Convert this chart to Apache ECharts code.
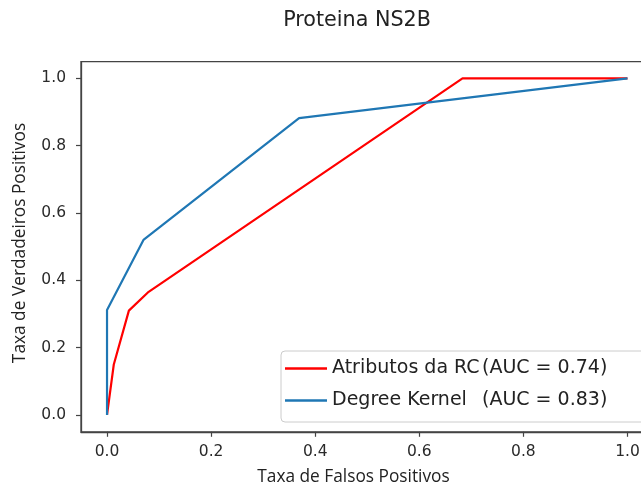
<!DOCTYPE html>
<html>
<head>
<meta charset="utf-8">
<script src="https://cdn.jsdelivr.net/npm/echarts@6/dist/echarts.min.js"></script>
<style>
html,body{margin:0;padding:0;background:#fff;}
#c{width:641px;height:487px;}
</style>
</head>
<body>
<div id="c"></div>
<script>
// Data
const titleText = 'Proteina NS2B';
const xLabel = 'Taxa de Falsos Positivos';
const yLabel = 'Taxa de Verdadeiros Positivos';
const tickValues = [0, 0.2, 0.4, 0.6, 0.8, 1.0];
const seriesNames = ['Atributos da RC', 'Degree Kernel'];
const aucValues = ['0.74', '0.83'];
const rcFpr = [0, 0.013, 0.042, 0.080, 0.683, 1.0];
const rcTpr = [0, 0.15, 0.31, 0.366, 1.0, 1.0];
const dkFpr = [0, 0, 0.070, 0.369, 1.0];
const dkTpr = [0, 0.312, 0.52, 0.882, 1.0];

const pairs = (xs, ys) => xs.map((x, i) => [x, ys[i]]);

const chart = echarts.init(document.getElementById('c'));
const axisCommon = {
  type: 'value',
  min: -0.05,
  max: 1.05,
  axisLine: { show: true, onZero: false, lineStyle: { color: '#444', width: 1.3 } },
  axisTick: { show: true, length: 5, lineStyle: { color: '#444', width: 1.2 }, customValues: tickValues },
  axisLabel: {
    customValues: tickValues,
    formatter: v => v.toFixed(1),
    fontFamily: 'DejaVu Sans', fontSize: 15.5, color: '#2a2a2a'
  },
  splitLine: { show: false }
};
chart.setOption({
  animation: false,
  backgroundColor: '#fff',
  grid: {
    left: 81, top: 61.6, width: 572.5, height: 370.2,
    outerBoundsMode: 'none',
    containLabel: false,
    show: true, borderColor: '#444', borderWidth: 1.3, backgroundColor: 'transparent'
  },
  xAxis: Object.assign({}, axisCommon, {
    axisLabel: Object.assign({}, axisCommon.axisLabel, { margin: 12 })
  }),
  yAxis: Object.assign({}, axisCommon, {
    axisLabel: Object.assign({}, axisCommon.axisLabel, { margin: 15 })
  }),
  legend: {
    orient: 'vertical',
    left: 281, top: 351,
    padding: [6, 40, 10, 4],
    itemGap: 9,
    itemWidth: 42, itemHeight: 2.4,
    itemStyle: { borderWidth: 0 },
    icon: 'rect',
    backgroundColor: 'rgba(255,255,255,0.8)',
    borderColor: '#cccccc', borderWidth: 1, borderRadius: 4,
    data: seriesNames,
    formatter: name => '{n|' + name + '}{a|(AUC = ' + aucValues[seriesNames.indexOf(name)] + ')}',
    textStyle: {
      fontFamily: 'DejaVu Sans', fontSize: 19, color: '#222', lineHeight: 23,
      rich: {
        n: { width: 150, fontFamily: 'DejaVu Sans', fontSize: 19, color: '#222', lineHeight: 23 },
        a: { fontFamily: 'DejaVu Sans', fontSize: 19, color: '#222', lineHeight: 23 }
      }
    },
    itemTextGap: 5
  },
  series: [
    { name: seriesNames[0], type: 'line', data: pairs(rcFpr, rcTpr), showSymbol: false, symbol: 'none',
      lineStyle: { color: '#ff0000', width: 2.2 }, itemStyle: { color: '#ff0000' } },
    { name: seriesNames[1], type: 'line', data: pairs(dkFpr, dkTpr), showSymbol: false, symbol: 'none',
      lineStyle: { color: '#1f77b4', width: 2.2 }, itemStyle: { color: '#1f77b4' } }
  ],
  graphic: [
    { type: 'text', x: 357, y: 21, style: { text: titleText, fontFamily: 'DejaVu Sans', fontSize: 20.7, fill: '#222', align: 'center', verticalAlign: 'middle' } },
    { type: 'text', x: 353.5, y: 477, style: { text: xLabel, fontFamily: 'Open Sans', fontSize: 17.3, fill: '#222', align: 'center', verticalAlign: 'middle' } },
    { type: 'text', x: 20, y: 243, rotation: Math.PI / 2, style: { text: yLabel, fontFamily: 'Open Sans', fontSize: 17.3, fill: '#222', align: 'center', verticalAlign: 'middle' } }
  ]
});
</script>
</body>
</html>
